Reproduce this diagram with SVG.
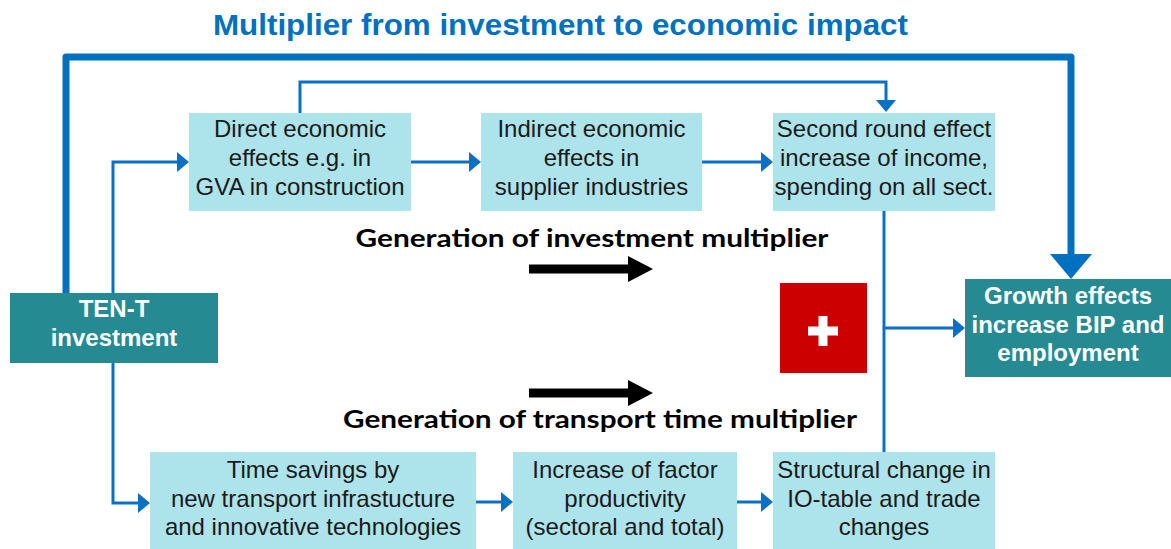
<svg xmlns="http://www.w3.org/2000/svg" width="1171" height="549" viewBox="0 0 1171 549">
<defs>
<style>
.lb{fill:#ADE3EA}
.tb{fill:#268A93}
.bt{font-family:"Liberation Sans",Arial,sans-serif;font-size:24px;fill:#1A1A1A;text-anchor:middle}
.wt{font-family:"Liberation Sans",Arial,sans-serif;font-size:24px;font-weight:bold;fill:#FFFFFF;text-anchor:middle}
.gt{font-family:Lato,"Liberation Sans",sans-serif;font-size:25px;font-weight:bold;fill:#000000;text-anchor:middle}
.thin{fill:none;stroke:#0A70C4;stroke-width:3}
.thick{fill:none;stroke:#0070C0;stroke-width:7;stroke-linejoin:round}
</style>
<marker id="ah" markerUnits="userSpaceOnUse" viewBox="0 0 12 20" markerWidth="12" markerHeight="20" refX="0" refY="10" orient="auto"><path d="M0,0 L12,10 L0,20 Z" fill="#0A70C4"/></marker>
<marker id="ahk" markerUnits="userSpaceOnUse" viewBox="0 0 25 42" markerWidth="25" markerHeight="42" refX="0" refY="21" orient="auto"><path d="M0,0 L25,21 L0,42 Z" fill="#0070C0"/></marker>
<marker id="ahb" markerUnits="userSpaceOnUse" viewBox="0 0 25 26" markerWidth="25" markerHeight="26" refX="0" refY="13" orient="auto"><path d="M0,0 L25,13 L0,26 Z" fill="#000000"/></marker>
</defs>
<rect width="1171" height="549" fill="#FFFFFF"/>
<text x="560.5" y="35" font-family="Liberation Sans,Arial,sans-serif" font-size="30" font-weight="bold" fill="#0070C0" text-anchor="middle" textLength="695" lengthAdjust="spacingAndGlyphs">Multiplier from investment to economic impact</text>
<g id="connectors">
<path class="thick" d="M66,293 V57 H1071 V254" marker-end="url(#ahk)"/>
<path class="thin" d="M113,293 V162 H177" marker-end="url(#ah)"/>
<path class="thin" d="M113,363 V503 H138" marker-end="url(#ah)"/>
<path class="thin" d="M411,162 H469" marker-end="url(#ah)"/>
<path class="thin" d="M702,162 H761" marker-end="url(#ah)"/>
<path class="thin" d="M300,113 V82 H886 V100" marker-end="url(#ah)"/>
<path class="thin" d="M884,211 V452"/>
<path class="thin" d="M884,328 H953" marker-end="url(#ah)"/>
<path class="thin" d="M476,502 H501" marker-end="url(#ah)"/>
<path class="thin" d="M737,502 H761" marker-end="url(#ah)"/>
<path d="M529,269 H628" stroke="#000" stroke-width="9" fill="none" marker-end="url(#ahb)"/>
<path d="M529,393 H628" stroke="#000" stroke-width="9" fill="none" marker-end="url(#ahb)"/>
</g>
<g id="ten-t">
<rect class="tb" x="10" y="293" width="208" height="70"/>
<text class="wt"><tspan x="114" y="317">TEN-T</tspan><tspan x="114" y="346">investment</tspan></text>
</g>
<g id="direct">
<rect class="lb" x="189" y="113" width="222" height="98"/>
<text class="bt"><tspan x="300" y="137">Direct economic</tspan><tspan x="300" y="166">effects e.g. in</tspan><tspan x="300" y="195">GVA in construction</tspan></text>
</g>
<g id="indirect">
<rect class="lb" x="481" y="113" width="221" height="98"/>
<text class="bt"><tspan x="591.5" y="137">Indirect economic</tspan><tspan x="591.5" y="166">effects in</tspan><tspan x="591.5" y="195">supplier industries</tspan></text>
</g>
<g id="second">
<rect class="lb" x="773" y="113" width="222" height="98"/>
<text class="bt"><tspan x="884" y="137">Second round effect</tspan><tspan x="884" y="166">increase of income,</tspan><tspan x="884" y="195">spending on all sect.</tspan></text>
</g>
<g id="growth">
<rect class="tb" x="965" y="279" width="206" height="98"/>
<text class="wt"><tspan x="1068" y="304">Growth effects</tspan><tspan x="1068" y="333">increase BIP and</tspan><tspan x="1068" y="361">employment</tspan></text>
</g>
<g id="plus">
<rect x="780" y="283" width="87" height="90" fill="#CC0000"/>
<path d="M823,316 V346 M808,331 H838" stroke="#FFFFFF" stroke-width="9"/>
</g>
<g id="labels">
<text class="gt" x="592" y="247" textLength="473" lengthAdjust="spacingAndGlyphs">Generation of investment multiplier</text>
<text class="gt" x="600" y="428" textLength="514" lengthAdjust="spacingAndGlyphs">Generation of transport time multiplier</text>
</g>
<g id="time">
<rect class="lb" x="150" y="452" width="326" height="97"/>
<text class="bt"><tspan x="313" y="478">Time savings by</tspan><tspan x="313" y="507">new transport infrastucture</tspan><tspan x="313" y="535">and innovative technologies</tspan></text>
</g>
<g id="increase">
<rect class="lb" x="513" y="452" width="224" height="97"/>
<text class="bt"><tspan x="625" y="478">Increase of factor</tspan><tspan x="625" y="507">productivity</tspan><tspan x="625" y="535">(sectoral and total)</tspan></text>
</g>
<g id="structural">
<rect class="lb" x="773" y="452" width="222" height="97"/>
<text class="bt"><tspan x="884" y="478">Structural change in</tspan><tspan x="884" y="507">IO-table and trade</tspan><tspan x="884" y="535">changes</tspan></text>
</g>
</svg>
